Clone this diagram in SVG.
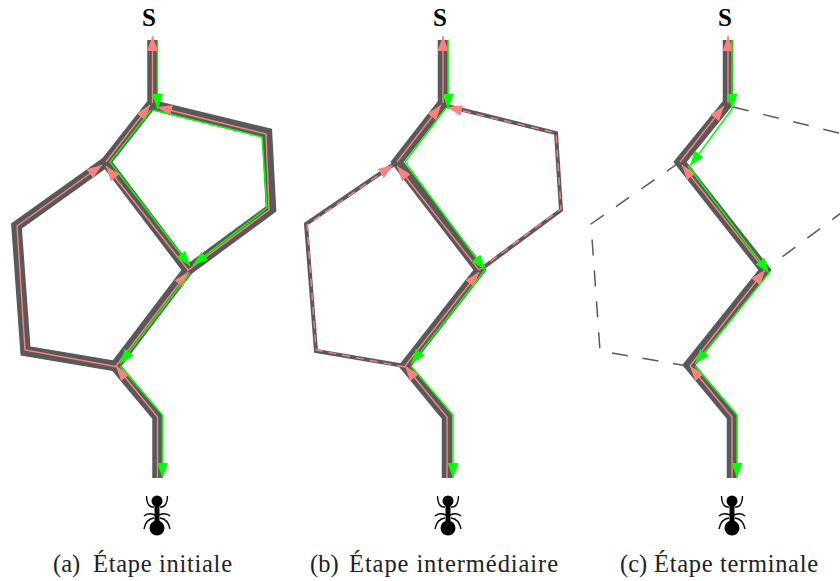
<svg xmlns="http://www.w3.org/2000/svg" width="840" height="581" viewBox="0 0 840 581">
<style>
.e{fill:none;stroke:#595959;stroke-linejoin:miter;stroke-miterlimit:6}
.t{stroke-width:10.5}
.m{stroke-width:4}
.d{stroke-width:1.5;stroke-dasharray:16 15}
.p{fill:none;stroke:#ff8080;stroke-width:1.4;marker-end:url(#pa)}
.pd{fill:none;stroke:#ff8080;stroke-width:1.4;stroke-dasharray:8 6;marker-end:url(#pa)}
.g{fill:none;stroke:#00ff00;stroke-width:1.5;marker-end:url(#ga)}
.c{font-family:"Liberation Serif",serif;font-size:24.5px;fill:#222}
.s{font-family:"Liberation Serif",serif;font-size:25px;font-weight:bold;fill:#000;text-anchor:middle}
</style>
<defs>
<marker id="pa" markerUnits="userSpaceOnUse" markerWidth="16" markerHeight="12" refX="15" refY="6" orient="auto"><path d="M0 0.5L15 6L0 11.5z" fill="#ff8080"/></marker>
<marker id="ga" markerUnits="userSpaceOnUse" markerWidth="16" markerHeight="12" refX="15" refY="6" orient="auto"><path d="M0 0.5L15 6L0 11.5z" fill="#00ff00"/></marker>
<g id="ant">
<circle cx="0" cy="0" r="5.5"/><circle cx="0" cy="27" r="7.500"/>
<path d="M0 0V24" stroke="#000" stroke-width="5" fill="none"/>
<path d="M-3 6Q-10 7-10.500 -5M3 6Q10 7 10.500 -5M-2 14Q-9 11-13 15M2 14Q9 11 13 15M-3 17Q-11 18-13 28M3 17Q11 18 13 28" stroke="#000" stroke-width="1.4" fill="none"/>
</g>
</defs>

<g id="panel-a">
<g id="connectors-a">
<path class="e t" d="M152.500 40V103L106 162L188 270L115 366L157.500 417V478"/>
<path class="e t" d="M152 105L267 133L271 209L188 270"/>
<path class="e t" d="M106 162L16.500 226L25.500 351L115 366"/>
<path class="p" d="M157.500 478V417L116 366"/>
<path class="p" d="M116 366L188 272"/>
<path class="p" d="M188 270L106 166"/>
<path class="p" d="M118 367L25 350L17 226L102 165"/>
<path class="p" d="M106 162L150 105"/>
<path class="p" d="M187 271L269 210L266 134L157 107"/>
<path class="p" d="M152.500 103V36"/>
<path class="g" d="M157.500 40V109"/>
<path class="g" d="M151 110L110 162L190 266"/>
<path class="g" d="M153 110L262 137L267 208L193 265"/>
<path class="g" d="M190 273L120 364"/>
<path class="g" d="M120 366L162.500 415V478"/>
</g>
<g id="node-s-a"><text class="s" x="149" y="26">S</text></g>
<g id="node-ant-a"><use href="#ant" x="157" y="501"/></g>
<text class="c" x="53" y="572">(a)</text>
<text class="c" x="93" y="572" textLength="139">Étape initiale</text>
</g>

<g id="panel-b">
<g id="connectors-b">
<path class="e t" d="M443 40V103L397 162L480 270L405 366L447 417V478"/>
<path class="e m" d="M443 105L556 133L561 210L480 270"/>
<path class="e m" d="M397 162L306 224L316 351L405 366"/>
<path class="p" d="M447 478V417L405 366"/>
<path class="p" d="M405 366L479 272"/>
<path class="p" d="M479 270L397 166"/>
<path class="pd" d="M405 367L316 350L307 225L393 165"/>
<path class="p" d="M397 162L441 105"/>
<path class="pd" d="M479 270L561 209L556 133L447 107"/>
<path class="p" d="M443 103V36"/>
<path class="g" d="M448 40V109"/>
<path class="g" d="M446 108L405 162L485 270"/>
<path class="g" d="M485 270L411 364"/>
<path class="g" d="M411 366L453 415V478"/>
</g>
<g id="node-s-b"><text class="s" x="440" y="26">S</text></g>
<g id="node-ant-b"><use href="#ant" x="448" y="501"/></g>
<text class="c" x="310" y="572">(b)</text>
<text class="c" x="349" y="572" textLength="209">Étape intermédiaire</text>
</g>

<g id="panel-c">
<g id="connectors-c">
<path class="e t" d="M728 40V103L680 162L765 270L689 365L732 417V478"/>
<path class="e d" d="M733 107L843 134"/>
<path class="e d" d="M845 210L770 266"/>
<path class="e d" d="M680 162L591 224L600 351L687 366"/>
<path class="p" d="M732 478V417L690 366"/>
<path class="p" d="M690 366L765 270"/>
<path class="p" d="M765 270L682 165"/>
<path class="p" d="M680 162L724 106"/>
<path class="p" d="M728 103V36"/>
<path class="g" d="M732 40V109"/>
<path class="g" d="M732 109L690 166"/>
<path class="g" d="M688 166L769 273"/>
<path class="g" d="M769 273L695 364"/>
<path class="g" d="M695 366L737 415V478"/>
</g>
<g id="node-s-c"><text class="s" x="725" y="26">S</text></g>
<g id="node-ant-c"><use href="#ant" x="732" y="501"/></g>
<text class="c" x="620" y="572">(c)</text>
<text class="c" x="654" y="572" textLength="164">Étape terminale</text>
</g>
</svg>
